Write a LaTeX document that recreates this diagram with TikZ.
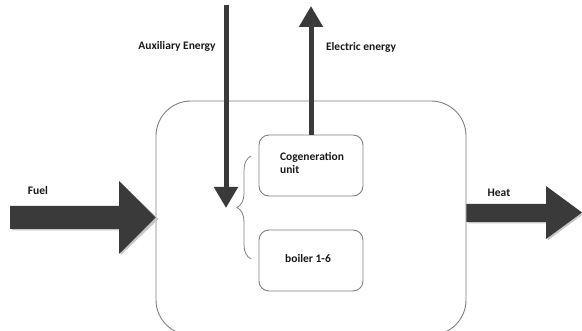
\documentclass[tikz,border=0pt]{standalone}
\usepackage{fontspec}
\setmainfont{Carlito}
\usetikzlibrary{arrows.meta,decorations.pathreplacing}
\definecolor{arrowfill}{HTML}{3A3A3A}
\definecolor{boxline}{HTML}{7F7F7F}
\tikzset{
  sysbox/.style={draw=boxline, line width=0.9pt, rounded corners=35pt, minimum width=310pt, minimum height=234pt, inner sep=0pt},
  unitbox/.style={draw=boxline, line width=0.9pt, rounded corners=10pt, minimum width=104pt, minimum height=61pt, inner sep=0pt},
  lbl/.style={font=\bfseries\fontsize{11.5}{13}\selectfont, inner sep=0pt, text=black!90},
  thinarrow/.style={draw=arrowfill, line width=5pt, -{Triangle[length=21pt,width=23pt]}},
  blockarrow/.style={fill=arrowfill},
  blockshadow/.style={fill=gray!45},
}
\begin{document}
\begin{tikzpicture}[x=1pt,y=-1pt]
\useasboundingbox (0,0) rectangle (582,331);
% main system box
\node[sysbox] (sys) at (311,218) {};
% units
\node[unitbox] (cog) at (311,165.5) {};
\node[lbl, align=left] (coglbl) at (312,163.5) {Cogeneration\\unit};
\node[unitbox] (boil) at (311,260.5) {};
\node[lbl] (boillbl) at (308,259) {boiler 1-6};
% brace
\coordinate (bracetop) at (251,156);
\coordinate (bracebot) at (251,259);
\draw[boxline, line width=0.8pt, decorate, decoration={brace, amplitude=14pt}] (bracebot) -- (bracetop);
% auxiliary energy arrow
\coordinate (auxtop) at (226,5);
\coordinate (auxend) at (226,208);
\draw[thinarrow] (auxtop) -- (auxend);
\node[lbl] (auxlbl) at (177,46) {Auxiliary Energy};
% electric energy arrow
\coordinate (eltop) at (311,6);
\draw[thinarrow] (cog.north) -- (eltop);
\node[lbl] (ellbl) at (361,47) {Electric energy};
% fuel block arrow
\fill[blockshadow] (11.5,207.5) -- (120.5,207.5) -- (120.5,182.5) -- (158.5,219) -- (120.5,255.5) -- (120.5,230.5) -- (11.5,230.5) -- cycle;
\fill[blockarrow] (10,206) -- (119,206) -- (119,181) -- (sys.west |- 0,217.5) -- (119,254) -- (119,229) -- (10,229) -- cycle;
\node[lbl] (fuellbl) at (38,191) {Fuel};
% heat block arrow
\fill[blockshadow] (467.5,205.5) -- (547.5,205.5) -- (547.5,187.5) -- (583.5,214) -- (547.5,240.5) -- (547.5,223.5) -- (467.5,223.5) -- cycle;
\fill[blockarrow] (sys.east |- 0,204) -- (546,204) -- (546,186) -- (582,212.5) -- (546,239) -- (546,222) -- (sys.east |- 0,222) -- cycle;
\node[lbl] (heatlbl) at (499,193) {Heat};
\end{tikzpicture}
\end{document}
